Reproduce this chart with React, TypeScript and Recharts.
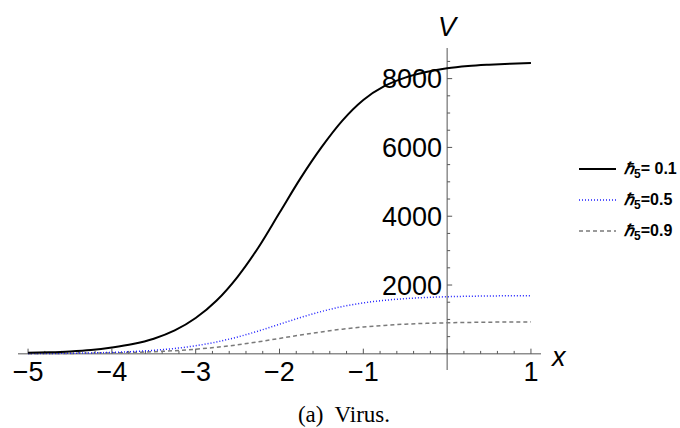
import React from "react";
import { LineChart, Line, XAxis, YAxis, ReferenceLine } from "recharts";

// x positions of the sampled curves
const xValues = [
  -5, -4.75, -4.5, -4.25, -4, -3.75, -3.5, -3.25, -3, -2.75, -2.5, -2.25, -2,
  -1.75, -1.5, -1.25, -1, -0.75, -0.5, -0.25, 0, 0.25, 0.5, 0.75, 1,
];
// V for hbar5 = 0.1 (solid)
const v01 = [
  28, 44, 70, 112, 185, 285, 440, 680, 1040, 1550, 2240, 3100, 4100, 5100,
  6000, 6780, 7380, 7780, 8030, 8190, 8300, 8365, 8405, 8435, 8455,
];
// V for hbar5 = 0.5 (dotted)
const v05 = [
  7, 11, 17, 27, 42, 66, 102, 156, 235, 345, 490, 665, 860, 1055, 1230, 1375,
  1480, 1555, 1605, 1638, 1660, 1673, 1682, 1688, 1692,
];
// V for hbar5 = 0.9 (dashed)
const v09 = [
  5, 8, 12, 18, 28, 42, 63, 92, 134, 191, 263, 350, 447, 547, 638, 717, 780,
  827, 862, 886, 902, 913, 920, 925, 929,
];

const xTickLabels = [-5, -4, -3, -2, -1, 1];
const yTickLabels = [2000, 4000, 6000, 8000];
const xMinorTicks = Array.from({ length: 31 }, (_, i) => Math.round((-5 + i * 0.2) * 10) / 10);
const yMinorTicks = Array.from({ length: 17 }, (_, i) => 500 + i * 500);

const legendItems = [
  { label: "= 0.1", color: "#000", dash: undefined, width: 2 },
  { label: "=0.5", color: "#1f1fff", dash: "1 2", width: 1.5 },
  { label: "=0.9", color: "#7a7a7a", dash: "4 3", width: 1.5 },
];

const data = xValues.map((x, i) => ({ x, a: v01[i], b: v05[i], c: v09[i] }));

const FONT = "'Liberation Sans', Arial, Helvetica, sans-serif";
const AXIS = "#555";

const fmt = (v: number) => (v < 0 ? "\u2212" + Math.abs(v) : String(v));

export default function App() {
  return (
    <div style={{ position: "absolute", left: 0, top: 0, width: 680, height: 428, background: "#fff" }}>
      <LineChart
        width={680}
        height={428}
        data={data}
        margin={{ top: 48, right: 139, bottom: 58, left: 18 }}
      >
        <XAxis dataKey="x" type="number" domain={[-5.12, 1.12]} hide />
        <YAxis type="number" domain={[-470, 8890]} hide />

        {/* axes through the origin */}
        <ReferenceLine
          y={0}
          stroke={AXIS}
          strokeWidth={1}
          label={{ value: "x", position: "right", offset: 11, fontSize: 27, fontStyle: "italic", fill: "#000", fontFamily: FONT, dy: 3 }}
        />
        <ReferenceLine
          x={0}
          stroke={AXIS}
          strokeWidth={1}
          label={{ value: "V", position: "top", offset: 12, fontSize: 27, fontStyle: "italic", fill: "#000", fontFamily: FONT }}
        />

        {xMinorTicks.map((t) => {
          const major = Number.isInteger(t);
          return (
            <ReferenceLine
              key={"xt" + t}
              segment={[{ x: t, y: 0 }, { x: t, y: major ? 150 : 85 }]}
              stroke={AXIS}
              strokeWidth={1}
            />
          );
        })}
        {yMinorTicks.map((t) => {
          const major = t % 2000 === 0;
          return (
            <ReferenceLine
              key={"yt" + t}
              segment={[{ x: 0, y: t }, { x: major ? 0.06 : 0.036, y: t }]}
              stroke={AXIS}
              strokeWidth={1}
            />
          );
        })}

        {xTickLabels.map((t) => (
          <ReferenceLine
            key={"xl" + t}
            segment={[{ x: t, y: 0 }, { x: t, y: 1 }]}
            stroke="none"
            label={{ value: fmt(t), position: "bottom", offset: 8, fontSize: 27, fill: "#000", fontFamily: FONT }}
          />
        ))}
        {yTickLabels.map((t) => (
          <ReferenceLine
            key={"yl" + t}
            segment={[{ x: 0, y: t }, { x: 0.001, y: t }]}
            stroke="none"
            label={{ value: fmt(t), position: "left", offset: 5, fontSize: 27, fill: "#000", fontFamily: FONT }}
          />
        ))}

        <Line type="monotone" dataKey="c" stroke="#7a7a7a" strokeWidth={1.5} strokeDasharray="4 3" dot={false} isAnimationActive={false} />
        <Line type="monotone" dataKey="b" stroke="#1f1fff" strokeWidth={1.5} strokeDasharray="1 2" dot={false} isAnimationActive={false} />
        <Line type="monotone" dataKey="a" stroke="#000" strokeWidth={2} dot={false} isAnimationActive={false} />
      </LineChart>

      {/* legend */}
      <div style={{ position: "absolute", left: 579, top: 153, fontFamily: FONT }}>
        {legendItems.map((it) => (
          <div key={it.label} style={{ display: "flex", alignItems: "center", height: 31 }}>
            <svg width={37} height={10} style={{ marginRight: 8 }}>
              <line x1={0} y1={5} x2={37} y2={5} stroke={it.color} strokeWidth={it.width} strokeDasharray={it.dash} />
            </svg>
            <span style={{ fontSize: 16, fontWeight: "bold", color: "#000", whiteSpace: "nowrap" }}>
              <i>{"\u210F"}</i>
              <sub style={{ fontSize: 12, verticalAlign: "-4px" }}>5</sub>
              {it.label}
            </span>
          </div>
        ))}
      </div>

      {/* caption */}
      <div
        style={{
          position: "absolute",
          left: 244,
          width: 200,
          top: 402,
          textAlign: "center",
          fontFamily: "'Liberation Serif', 'Times New Roman', serif",
          fontSize: 23,
          color: "#000",
          whiteSpace: "pre",
        }}
      >
        {"(a)  Virus."}
      </div>
    </div>
  );
}
